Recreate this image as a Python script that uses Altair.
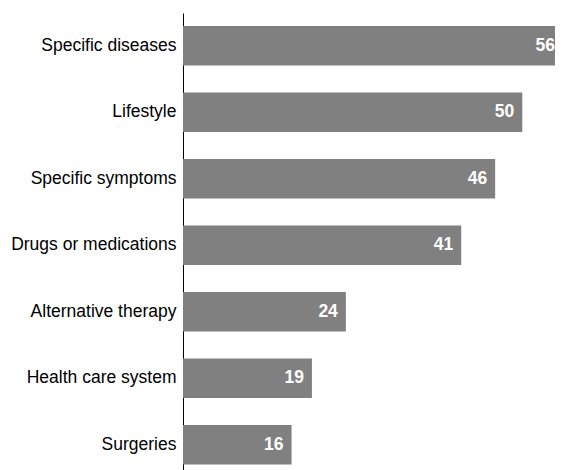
import altair as alt
import pandas as pd

categories = ["Specific diseases", "Lifestyle", "Specific symptoms", "Drugs or medications",
              "Alternative therapy", "Health care system", "Surgeries"]
values = [56, 50, 46, 41, 24, 19, 16]

df = pd.DataFrame({"topic": categories, "pct": values})

FONT = "Liberation Sans, Arial"

y = alt.Y("topic:N", sort=categories, title=None,
          scale=alt.Scale(range=[0, 464.5], paddingInner=0.406, paddingOuter=0.195),
          axis=alt.Axis(domainColor="#000000", domainWidth=1, ticks=False,
                        labelFontSize=17.5, labelFont=FONT, labelColor="#000000",
                        labelPadding=7, labelLimit=300))
x = alt.X("pct:Q", title=None, axis=None,
          scale=alt.Scale(domain=[0, 54.82], nice=False, zero=True))

bars = alt.Chart(df).mark_bar(color="#808080").encode(x=x, y=y)
labels = alt.Chart(df).mark_text(align="right", baseline="middle", dx=-8, color="#ffffff",
                                 font=FONT, fontWeight="bold", fontSize=17.5).encode(
    x=x, y=alt.Y("topic:N", sort=categories), text="pct:Q")

chart = (bars + labels).properties(
    width=372, height=465,
    autosize=alt.AutoSizeParams(type="none"),
    padding={"left": 175, "top": 5, "right": 0, "bottom": 0},
).configure_view(stroke=None)

chart.save("out.html", embed_options={"renderer": "svg", "actions": False})
